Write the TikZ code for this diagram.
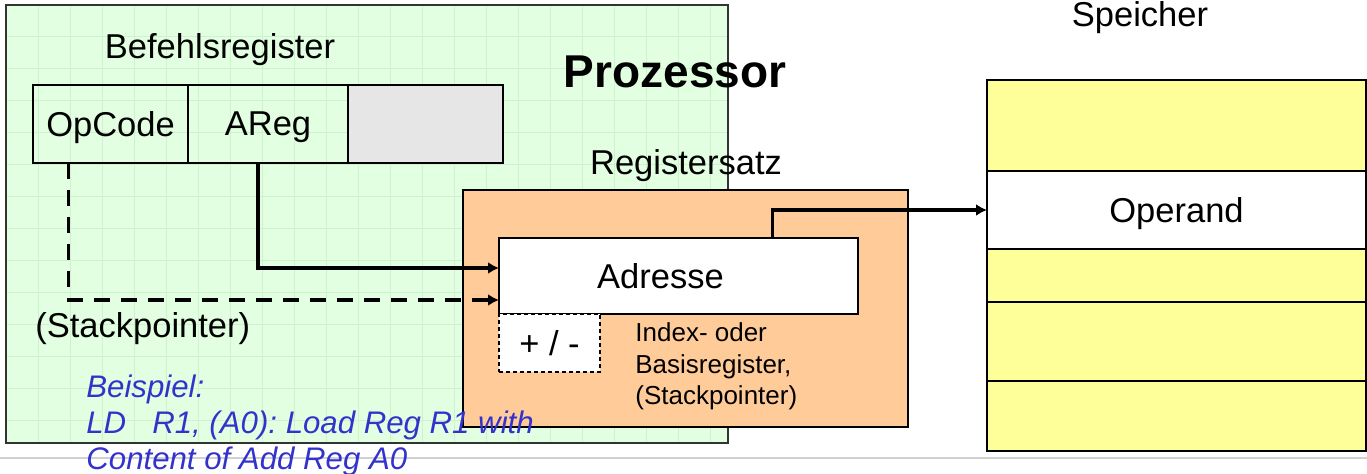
\documentclass[tikz,border=0pt]{standalone}
\usepackage{fontspec}
\setmainfont{Liberation Sans}
\usetikzlibrary{positioning}
\usetikzlibrary{arrows.meta}

\definecolor{procgreen}{RGB}{226,255,226}
\definecolor{procgrid}{RGB}{205,242,205}
\definecolor{regorange}{RGB}{255,204,153}
\definecolor{memyellow}{RGB}{255,255,153}
\definecolor{cellgrey}{RGB}{230,230,230}
\definecolor{noteblue}{RGB}{51,51,204}

\newcommand{\bigfont}{\fontsize{17.25pt}{19.25pt}\selectfont}
\newcommand{\smallfont}{\fontsize{13pt}{15.9pt}\selectfont}
\newcommand{\notefont}{\fontsize{15.6pt}{18pt}\selectfont\itshape\frenchspacing}

\tikzset{
    txt/.style={inner sep=0pt, font=\bigfont},
    cell/.style={draw, line width=1.35pt, outer sep=0pt, inner sep=0pt, minimum height=39pt, text depth=0pt, font=\bigfont},
    memrow/.style={draw, line width=1.35pt, fill=memyellow, outer sep=0pt, inner sep=0pt, minimum width=189.5pt, text depth=0pt, font=\bigfont},
    wire/.style={line width=1.6pt, -{Latex[length=5.5pt, width=6pt]}},
}

\begin{document}
\begin{tikzpicture}[x=0.5pt, y=-0.5pt]
    \useasboundingbox (0,0) rectangle (1367,474);

    % Processor
    \node[draw=black!80, line width=1pt, fill=procgreen, outer sep=0pt, inner sep=0pt,
          minimum width=361pt, minimum height=219pt, anchor=north west] (proc) at (6,5) {};
    \foreach \gx in {38,70,...,710} \draw[procgrid, line width=0.5pt] (\gx,6) -- (\gx,442);
    \foreach \gy in {37,69,...,421} \draw[procgrid, line width=0.5pt] (7,\gy) -- (727,\gy);
    \node[txt, font=\fontsize{23pt}{26pt}\selectfont\bfseries, anchor=base] (proclbl) at (675,88) {Prozessor};

    % Instruction register
    \node[txt, anchor=base] (irlbl) at (220,59) {Befehlsregister};
    \node[cell, minimum width=77.5pt, anchor=north west] (opc) at (33,85) {OpCode};
    \node[cell, minimum width=80pt, right=0pt of opc] (areg) {AReg};
    \node[cell, minimum width=77.5pt, fill=cellgrey, right=0pt of areg] (rest) {};

    % Register set
    \node[txt, anchor=base] (rslbl) at (686,175) {Registersatz};
    \node[draw, line width=1pt, fill=regorange, outer sep=0pt, minimum width=222.5pt,
          minimum height=118.5pt, anchor=north west] (rs) at (463,190) {};
    \node[cell, fill=white, line width=1pt, minimum width=179.5pt, minimum height=38pt,
          anchor=north west] (adr) at (499,238) {Adresse\hspace*{18pt}};
    \node[cell, fill=white, dash pattern=on 2pt off 1.5pt, line width=0.9pt, minimum width=50.5pt,
          minimum height=29pt, anchor=north west] (pm) at (adr.south west) {+ / -};
    \node[txt, font=\smallfont, align=left, anchor=north west] (idx) at (635,322) {Index- oder\\Basisregister,\\(Stackpointer)};

    % Memory
    \node[txt, anchor=base] (memlbl) at (1140,27) {Speicher};
    \node[memrow, minimum height=45.5pt, anchor=north west] (m1) at (987,80) {};
    \node[memrow, minimum height=39pt, fill=white, below=0pt of m1] (mop) {Operand};
    \node[memrow, minimum height=26.5pt, below=0pt of mop] (m3) {};
    \node[memrow, minimum height=39.5pt, below=0pt of m3] (m4) {};
    \node[memrow, minimum height=35pt, below=0pt of m4] (m5) {};

    % Address paths
    \draw[wire] ([xshift=-5pt]areg.south) |- ([yshift=4pt]adr.west);
    \draw[wire, dash pattern=on 8pt off 5.5pt] ([xshift=-21pt]opc.south) |- ([yshift=-12pt]adr.west);
    \draw[wire] ([xshift=47pt]adr.north) |- (mop.west);

    % Example
    \draw[black!18, line width=1pt] (0,458) -- (1367,458);
    \node[txt, anchor=base west] (stack) at (35,338) {(Stackpointer)};
    \node[txt, text=noteblue, font=\notefont, align=left, anchor=north west] (example) at (86,374)
        {Beispiel:\\LD\hspace{13pt}R1, (A0): Load Reg R1 with\\Content of Add Reg A0};
\end{tikzpicture}
\end{document}
